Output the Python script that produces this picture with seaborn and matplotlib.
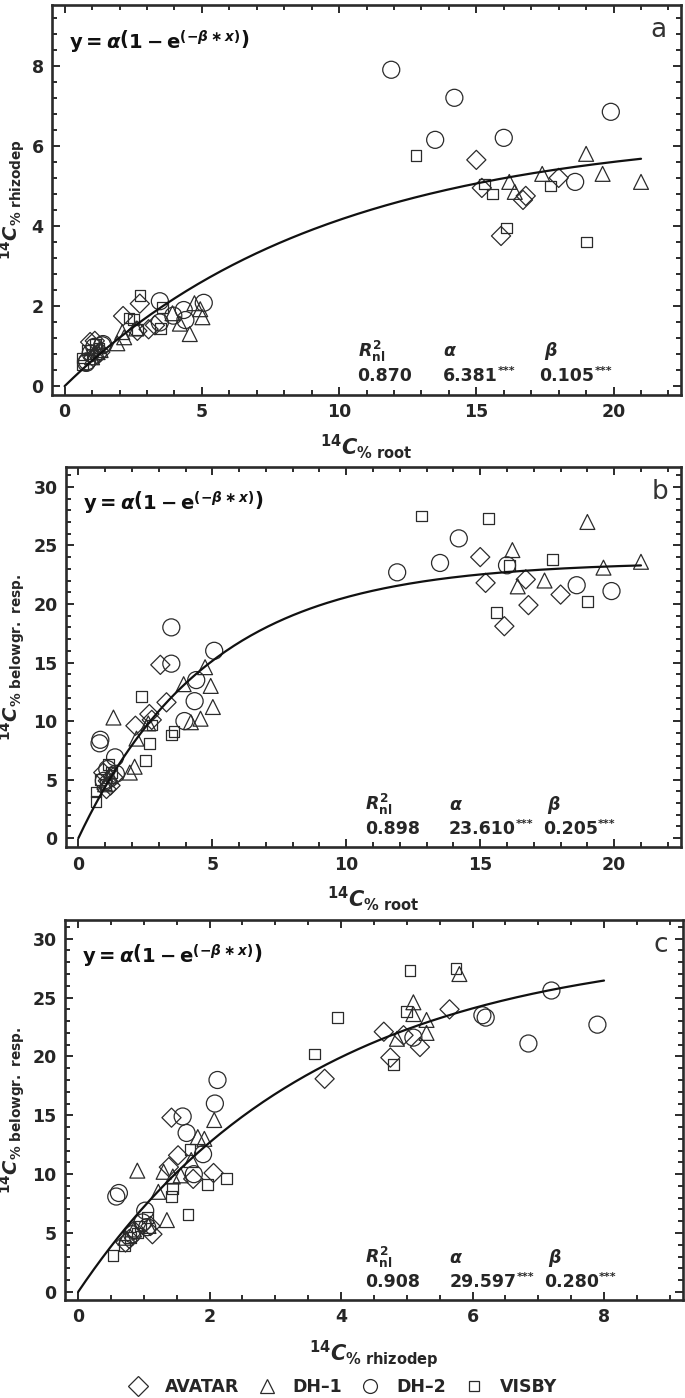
"""
14C allocation: root vs rhizodeposition vs belowground respiration,
exponential saturation fits for four genotypes.
"""
import numpy as np
import pandas as pd
import seaborn as sns
import matplotlib.pyplot as plt
from matplotlib.lines import Line2D
from matplotlib.ticker import MultipleLocator, AutoMinorLocator

# --- data (one row per plant) ---
avatar_root = [15.0, 15.2, 15.9, 16.7, 16.8, 18.0, 3.06, 3.29, 2.74, 2.13, 2.65, 1.1, 0.93, 1.05, 1.3, 1.2]
avatar_rhiz = [5.65, 4.95, 3.75, 4.65, 4.75, 5.2, 1.42, 1.52, 2.06, 1.75, 1.38, 1.13, 1.1, 0.72, 0.85, 0.78]
avatar_below = [24.0, 21.8, 18.1, 22.1, 19.9, 20.8, 14.8, 11.6, 10.1, 9.6, 10.6, 4.9, 5.6, 4.2, 5.2, 4.5]

dh1_root = [16.2, 16.4, 17.4, 19.0, 19.6, 21.0, 4.73, 3.93, 4.94, 5.02, 4.56, 4.2, 1.31, 2.17, 2.1, 1.92, 2.61, 1.0, 1.2]
dh1_rhiz = [5.1, 4.85, 5.3, 5.8, 5.3, 5.1, 2.07, 1.82, 1.92, 1.72, 1.3, 1.56, 0.9, 1.22, 1.35, 1.07, 1.44, 0.72, 0.85]
dh1_below = [24.6, 21.5, 22.0, 27.0, 23.1, 23.6, 14.6, 13.15, 13.0, 11.2, 10.2, 9.9, 10.3, 8.5, 6.1, 5.6, 9.8, 4.6, 5.3]

dh2_root = [11.9, 13.5, 14.2, 16.0, 18.6, 19.9, 3.47, 5.07, 3.47, 4.4, 4.34, 3.96, 0.79, 0.82, 1.37, 1.08, 0.95, 1.4]
dh2_rhiz = [7.9, 6.15, 7.2, 6.2, 5.1, 6.85, 2.12, 2.08, 1.59, 1.65, 1.9, 1.76, 0.58, 0.62, 1.02, 0.98, 0.82, 1.05]
dh2_below = [22.7, 23.5, 25.6, 23.3, 21.6, 21.1, 18.0, 16.0, 14.9, 13.5, 11.7, 10.0, 8.1, 8.4, 6.9, 5.9, 4.9, 5.5]

visby_root = [12.8, 15.3, 15.6, 16.1, 17.7, 19.0, 2.35, 2.75, 3.57, 3.48, 2.65, 2.5, 1.12, 0.84, 0.66, 0.66, 1.25, 1.0]
visby_rhiz = [5.75, 5.05, 4.8, 3.95, 5.0, 3.6, 1.7, 2.26, 1.97, 1.43, 1.42, 1.67, 1.05, 0.9, 0.7, 0.53, 0.95, 0.8]
visby_below = [27.5, 27.3, 19.3, 23.3, 23.8, 20.2, 12.1, 9.66, 9.1, 8.8, 8.1, 6.6, 6.3, 5.0, 3.94, 3.1, 5.6, 4.6]

genotypes = ["AVATAR", "DH\u20131", "DH\u20132", "VISBY"]

# fitted parameters y = alpha * (1 - exp(-beta * x))
fit_alpha = [6.381, 23.610, 29.597]
fit_beta = [0.105, 0.205, 0.280]
fit_r2 = ["0.870", "0.898", "0.908"]
fit_xmax = [21, 21, 8]

frames = []
for name, r, z, b in zip(genotypes,
                         [avatar_root, dh1_root, dh2_root, visby_root],
                         [avatar_rhiz, dh1_rhiz, dh2_rhiz, visby_rhiz],
                         [avatar_below, dh1_below, dh2_below, visby_below]):
    frames.append(pd.DataFrame({"genotype": name, "root": r, "rhizodep": z, "belowgr": b}))
df = pd.concat(frames, ignore_index=True)

sns.set_style("ticks")
plt.rcParams["font.family"] = ["DejaVu Sans"]
plt.rcParams["font.weight"] = "bold"
plt.rcParams["mathtext.fontset"] = "custom"
plt.rcParams["mathtext.rm"] = "DejaVu Sans:bold"
plt.rcParams["mathtext.bf"] = "DejaVu Sans:bold"
plt.rcParams["mathtext.it"] = "DejaVu Sans:italic:bold"
plt.rcParams["mathtext.sf"] = "DejaVu Sans:bold"

INK = "#2b2b2b"
markers = {"AVATAR": "D", "DH\u20131": "^", "DH\u20132": "o", "VISBY": "s"}
sizes = {"AVATAR": 95, "DH\u20131": 115, "DH\u20132": 150, "VISBY": 60}

lab_root = r"$^{\mathrm{14}}C_{\mathrm{\%\ root}}$"
lab_rhiz = r"$^{\mathrm{14}}C_{\mathrm{\%\ rhizodep}}$"
lab_below = r"$^{\mathrm{14}}C_{\mathrm{\%\ belowgr.\ resp.}}$"
equation = r"$\mathrm{y}=\alpha\left(\mathrm{1}-\mathrm{e}^{(-\beta\ast x)}\right)$"

panels = [
    dict(letter="a", x="root", y="rhizodep", rect=[0.0759, 0.7175, 0.918, 0.279],
         xlim=(-0.46, 22.45), ylim=(-0.22, 9.52), xmaj=5, xmin=5, ymaj=2, ymin=5,
         xlabel=lab_root, ylabel=lab_rhiz, ylab_x=-0.062),
    dict(letter="b", x="root", y="belowgr", rect=[0.0964, 0.394, 0.898, 0.272],
         xlim=(-0.46, 22.5), ylim=(-0.77, 31.7), xmaj=5, xmin=5, ymaj=5, ymin=5,
         xlabel=lab_root, ylabel=lab_below, ylab_x=-0.086),
    dict(letter="c", x="rhizodep", y="belowgr", rect=[0.0949, 0.070, 0.902, 0.272],
         xlim=(-0.2, 9.2), ylim=(-0.7, 31.6), xmaj=2, xmin=4, ymaj=5, ymin=5,
         xlabel=lab_rhiz, ylabel=lab_below, ylab_x=-0.084),
]

fig = plt.figure(figsize=(6.85, 13.98), dpi=100)

for i, p in enumerate(panels):
    ax = fig.add_axes(p["rect"])
    for g in genotypes:
        sub = df[df["genotype"] == g]
        sns.scatterplot(data=sub, x=p["x"], y=p["y"], marker=markers[g], s=sizes[g],
                        facecolors="none", edgecolors=INK, linewidths=0.9,
                        ax=ax, legend=False, zorder=3)

    xs = np.linspace(0, fit_xmax[i], 200)
    ys = fit_alpha[i] * (1 - np.exp(-fit_beta[i] * xs))
    sns.lineplot(x=xs, y=ys, color="#111111", linewidth=1.6, ax=ax, zorder=4)

    ax.set_xlim(*p["xlim"])
    ax.set_ylim(*p["ylim"])
    ax.xaxis.set_major_locator(MultipleLocator(p["xmaj"]))
    ax.xaxis.set_minor_locator(AutoMinorLocator(p["xmin"]))
    ax.yaxis.set_major_locator(MultipleLocator(p["ymaj"]))
    ax.yaxis.set_minor_locator(AutoMinorLocator(p["ymin"]))
    ax.tick_params(which="both", direction="in", top=True, right=True,
                   width=1.4, color=INK, labelsize=12.5, pad=6)
    ax.tick_params(which="major", length=6)
    ax.tick_params(which="minor", length=3.5)
    for lbl in ax.get_xticklabels() + ax.get_yticklabels():
        lbl.set_fontweight("bold")
    for sp in ax.spines.values():
        sp.set_linewidth(1.9)
        sp.set_color(INK)

    ax.set_xlabel(p["xlabel"], fontsize=15, labelpad=8)
    ax.set_ylabel(p["ylabel"], fontsize=14, va="center")
    ax.yaxis.set_label_coords(p["ylab_x"], 0.5)

    ax.text(0.027, 0.905, equation, transform=ax.transAxes, fontsize=14,
            ha="left", va="center", color="#111111")
    ax.text(0.965, 0.935, p["letter"], transform=ax.transAxes, fontsize=19,
            fontweight="normal", ha="center", va="center", color="#333333")

    # fit statistics
    ax.text(0.486, 0.112, r"$R^{2}_{\mathrm{nl}}$", transform=ax.transAxes,
            fontsize=12.5, ha="left", va="center")
    ax.text(0.622, 0.112, r"$\alpha$", transform=ax.transAxes,
            fontsize=12.5, ha="left", va="center")
    ax.text(0.782, 0.112, r"$\beta$", transform=ax.transAxes,
            fontsize=12.5, ha="left", va="center")
    ax.text(0.486, 0.048, fit_r2[i], transform=ax.transAxes,
            fontsize=12.5, ha="left", va="center")
    ta = ax.text(0.622, 0.048, "%.3f" % fit_alpha[i], transform=ax.transAxes,
                 fontsize=12.5, ha="left", va="center")
    tb = ax.text(0.775, 0.048, "%.3f" % fit_beta[i], transform=ax.transAxes,
                 fontsize=12.5, ha="left", va="center")
    for t in (ta, tb):
        ax.annotate("***", xy=(1.0, 0.78), xycoords=t, fontsize=8,
                    ha="left", va="center")

handles = [Line2D([], [], linestyle="none", marker=markers[g], markersize=10 if g != "VISBY" else 7.5,
                  markerfacecolor="none", markeredgecolor=INK, markeredgewidth=0.9, label=g)
           for g in genotypes]
fig.legend(handles=handles, loc="center", bbox_to_anchor=(0.5, 1 - 1387 / 1398), ncol=4,
           frameon=False, prop={"weight": "bold", "size": 12.5}, handletextpad=0.9,
           handlelength=1.2, columnspacing=1.0)

plt.savefig("out.png", dpi=100)
